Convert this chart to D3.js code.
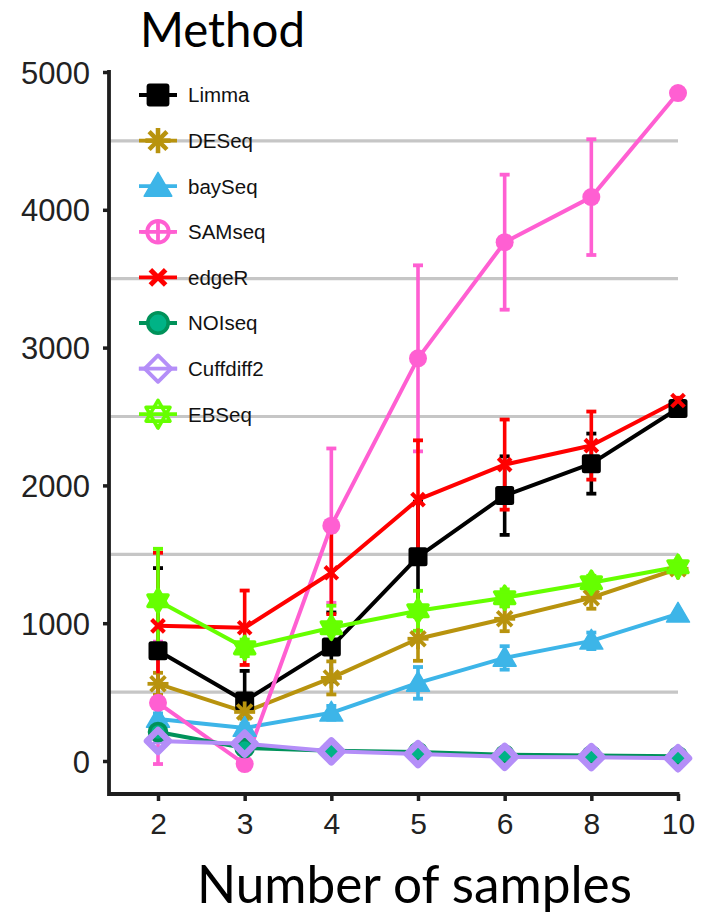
<!DOCTYPE html>
<html><head><meta charset="utf-8">
<script src="https://cdn.jsdelivr.net/npm/d3@7"></script>
<style>body{margin:0;background:#fff}
.arial{font-family:'Liberation Sans', Arial, sans-serif;}
.gill{font-family:Lato, 'Open Sans', sans-serif;}
</style></head>
<body>
<svg id="c" width="710" height="921"></svg>
<script>
// ---- data ----
const samples = ["2","3","4","5","6","8","10"];
const methods = ["Limma","DESeq","baySeq","SAMseq","edgeR","NOIseq","Cuffdiff2","EBSeq"];
const colors  = ["#000000","#B8930E","#3DB5E8","#FF5FD2","#FF0000","#00925A","#B48EF8","#66FF00"];
const shapes  = ["square","asterisk","triangle","circleplus","cross","circlefill","diamond","star"];
const yTicks = [0,1000,2000,3000,4000,5000];
const gridVals = [500,1500,2500,3500,4500];

const limma     = [800, 436, 828, 1482, 1926, 2158, 2558];
const limmaErr  = [600, 218, 250, 400, 285, 218, 20];
const deseq     = [560, 356, 603, 887, 1032, 1185, 1395];
const deseqErr  = [80, 50, 120, 160, 90, 80, 20];
const bayseq    = [305, 240, 350, 567, 748, 872, 1068];
const bayseqErr = [40, 30, 50, 115, 85, 60, 10];
const samseq    = [422, -22, 1708, 2922, 3765, 4092, 4847];
const samseqErr = [444, 0, 560, 675, 490, 420, 0];
const edger     = [981, 967, 1366, 1897, 2151, 2289, 2616];
const edgerErr  = [530, 270, 300, 430, 327, 247, 20];
const noiseq    = [210, 95, 75, 65, 45, 40, 35];
const noiseqErr = [10, 10, 10, 10, 5, 5, 5];
const cuffdiff  = [145, 125, 70, 50, 30, 28, 20];
const cuffdiffErr = [10, 10, 10, 5, 5, 5, 5];
const ebseq     = [1163, 821, 967, 1090, 1185, 1294, 1410];
const ebseqErr  = [377, 60, 160, 145, 60, 50, 20];

const seriesVals = [limma, deseq, bayseq, samseq, edger, noiseq, cuffdiff, ebseq];
const seriesErr  = [limmaErr, deseqErr, bayseqErr, samseqErr, edgerErr, noiseqErr, cuffdiffErr, ebseqErr];

const series = methods.map((m,i)=>({
  name:m, color:colors[i], shape:shapes[i],
  pts: samples.map((s,j)=>({x:s, y:seriesVals[i][j], e:seriesErr[i][j]}))
}));

// ---- layout ----
const svg = d3.select("#c");
const panel = {left:109, right:679, top:70, bottom:794};
const x = d3.scalePoint().domain(samples).range([158, 678]);
const y = d3.scaleLinear().domain([0,5000]).range([761, 72]);

// gridlines
svg.append("g").selectAll("line").data(gridVals).join("line")
  .attr("x1", panel.left).attr("x2", 678)
  .attr("y1", d=>y(d)).attr("y2", d=>y(d))
  .attr("stroke","#c6c6c6").attr("stroke-width",3.2);

// axes
const axisCol = "#1e1e1e";
const yAxis = svg.append("g").attr("transform",`translate(${panel.left},0)`)
  .call(d3.axisLeft(y).tickValues(yTicks).tickFormat(d3.format("d")).tickSize(6).tickSizeOuter(0).tickPadding(13));
yAxis.attr("font-family",null).attr("font-size",null);
yAxis.select(".domain").remove();
yAxis.selectAll(".tick line").attr("stroke",axisCol).attr("stroke-width",3.5);
yAxis.selectAll(".tick text").attr("class","arial")
  .style("font-size","31px").attr("fill","#222").attr("dy","0.36em");

const xAxis = svg.append("g").attr("transform",`translate(0,${panel.bottom})`)
  .call(d3.axisBottom(x).tickSize(7).tickSizeOuter(0).tickPadding(10));
xAxis.attr("font-family",null).attr("font-size",null);
xAxis.select(".domain").remove();
xAxis.selectAll(".tick line").attr("stroke",axisCol).attr("stroke-width",3.5);
xAxis.selectAll(".tick text").attr("class","arial")
  .style("font-size","30px").attr("fill","#222").attr("dy","0.75em");

svg.append("path")
  .attr("d",`M${panel.left},${panel.top}V${panel.bottom}H${x("10")+1.5}`)
  .attr("fill","none").attr("stroke",axisCol).attr("stroke-width",3.8);

// ---- marks ----
const capW = 5;
const plot = svg.append("g");
// error bars
series.forEach(s=>{
  const g = plot.append("g");
  s.pts.filter(p=>p.e>0).forEach(p=>{
    const cx = x(p.x), y1 = y(p.y+p.e), y2 = y(p.y-p.e);
    g.append("line").attr("x1",cx).attr("x2",cx).attr("y1",y1).attr("y2",y2)
      .attr("stroke",s.color).attr("stroke-width",3.6);
    [y1,y2].forEach(yy=>g.append("line").attr("x1",cx-capW).attr("x2",cx+capW)
      .attr("y1",yy).attr("y2",yy).attr("stroke",s.color).attr("stroke-width",3.8));
  });
});
// lines
const line = d3.line().x(d=>x(d.x)).y(d=>y(d.y));
series.forEach(s=>{
  plot.append("path").attr("d",line(s.pts)).attr("fill","none")
    .attr("stroke",s.color).attr("stroke-width",4).attr("stroke-linejoin","round");
});

function drawShape(g, shape, cx, cy, k, color, legend){
  const sw = 3.8*k;
  if(shape==="square"){
    g.append("rect").attr("x",cx-9.5*k).attr("y",cy-9.5*k).attr("width",19*k).attr("height",19*k)
      .attr("rx",2.5*k).attr("fill",color);
  } else if(shape==="asterisk"){
    const r = 10.5*k;
    [0,45,90,135].forEach(a=>{
      const t=a*Math.PI/180;
      g.append("line").attr("x1",cx-r*Math.cos(t)).attr("y1",cy-r*Math.sin(t))
        .attr("x2",cx+r*Math.cos(t)).attr("y2",cy+r*Math.sin(t))
        .attr("stroke",color).attr("stroke-width",sw);
    });
  } else if(shape==="triangle"){
    const r = 11.5*k;
    g.append("path").attr("d",`M${cx},${cy-r}L${cx+r},${cy+r*0.72}L${cx-r},${cy+r*0.72}Z`)
      .attr("fill",color).attr("stroke",color).attr("stroke-width",1.5).attr("stroke-linejoin","round");
  } else if(shape==="circleplus"){
    if(legend){
      const r=9*k;
      g.append("circle").attr("cx",cx).attr("cy",cy).attr("r",r).attr("fill","#fff")
        .attr("stroke",color).attr("stroke-width",3.8);
      g.append("line").attr("x1",cx-r-6).attr("x2",cx+r+6).attr("y1",cy).attr("y2",cy).attr("stroke",color).attr("stroke-width",3.8);
      g.append("line").attr("x1",cx).attr("x2",cx).attr("y1",cy-r).attr("y2",cy+r).attr("stroke",color).attr("stroke-width",3.8);
    } else {
      g.append("circle").attr("cx",cx).attr("cy",cy).attr("r",9*k).attr("fill",color);
    }
  } else if(shape==="cross"){
    const r = 9*k;
    [45,135].forEach(a=>{
      const t=a*Math.PI/180;
      g.append("line").attr("x1",cx-r*Math.cos(t)).attr("y1",cy-r*Math.sin(t))
        .attr("x2",cx+r*Math.cos(t)).attr("y2",cy+r*Math.sin(t))
        .attr("stroke",color).attr("stroke-width",sw*1.1);
    });
  } else if(shape==="circlefill"){
    g.append("circle").attr("cx",cx).attr("cy",cy).attr("r",8.5*k).attr("fill","#00B386")
      .attr("stroke",color).attr("stroke-width",3.6);
  } else if(shape==="diamond"){
    const r = 11*k;
    g.append("path").attr("d",`M${cx},${cy-r}L${cx+r},${cy}L${cx},${cy+r}L${cx-r},${cy}Z`)
      .attr("fill",legend?"#fff":"none").attr("stroke",color).attr("stroke-width",legend?3.8:6.5)
      .attr("stroke-linejoin","round");
    if(legend) g.append("line").attr("x1",cx-r-6).attr("x2",cx+r+6).attr("y1",cy).attr("y2",cy).attr("stroke",color).attr("stroke-width",3.8);
  } else if(shape==="star"){
    const r = 11.5*k;
    const tri = a0 => d3.range(3).map(i=>{const t=(a0+i*120)*Math.PI/180; return [cx+r*Math.sin(t), cy-r*Math.cos(t)];});
    [0,180].forEach(a0=>{
      g.append("path").attr("d","M"+tri(a0).join("L")+"Z").attr("fill",legend?"none":color)
        .attr("stroke",color).attr("stroke-width",3.6).attr("stroke-linejoin","round");
    });
  }
}
// points
series.forEach(s=>{
  const g = plot.append("g");
  s.pts.forEach(p=>drawShape(g, s.shape, x(p.x), y(p.y), 1, s.color, false));
});

// ---- legend ----
const leg = svg.append("g");
const legTop = 95, legStep = 45.6, keyX = 158;
const title = leg.append("text").attr("x",140).attr("y",47).text("Method")
  .attr("class","gill").style("font-size","40px").attr("fill","#000");
{ const w = title.node().getComputedTextLength(); title.style("font-size", (40*165/w)+"px"); }
series.forEach((s,i)=>{
  const cy = legTop + i*legStep;
  const g = leg.append("g");
  g.append("line").attr("x1",keyX-19).attr("x2",keyX+19).attr("y1",cy).attr("y2",cy)
    .attr("stroke",s.color).attr("stroke-width",3.8);
  drawShape(g, s.shape, keyX, cy, 1.2, s.color, true);
  g.append("text").attr("x",188).attr("y",cy).attr("dy","0.36em").text(s.name)
    .attr("class","arial").style("font-size","20.5px").attr("fill","#111");
});

// axis title
const xt = svg.append("text").attr("x",197).attr("y",903).text("Number of samples")
  .attr("class","gill").style("font-size","40px").attr("fill","#000");
{ const w = xt.node().getComputedTextLength(); xt.style("font-size", (40*435/w)+"px"); }
</script>
</body></html>
